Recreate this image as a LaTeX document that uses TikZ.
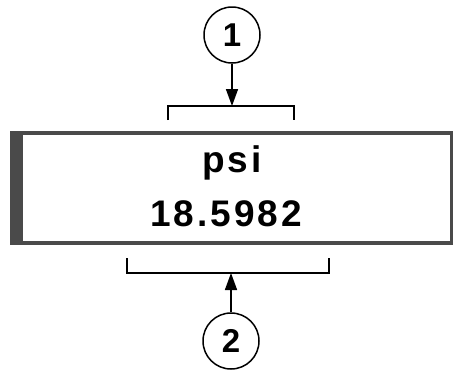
\documentclass[tikz,border=0pt]{standalone}
\usepackage{fontspec}
\setmainfont{Liberation Sans}
\newfontfamily\dispfont[LetterSpace=8]{Liberation Sans}
\usetikzlibrary{arrows.meta}
\definecolor{framegray}{HTML}{4A4A4A}
\begin{document}
\begin{tikzpicture}[x=1pt,y=-1pt,
  line width=1.6pt,
  callout/.style={draw,circle,minimum size=56pt,inner sep=0pt,line width=1.5pt,font=\fontsize{33}{33}\selectfont\bfseries},
  disp/.style={font=\fontsize{37}{37}\selectfont\bfseries\dispfont,inner sep=0pt},
  pointer/.style={-{Triangle[length=17pt,width=12pt]},line width=1.6pt}]
\useasboundingbox (0,0) rectangle (455,370);
\fill[framegray] (10,131) rectangle (453,245);
\fill[white] (23,135) rectangle (450,241);
\node[disp] (unit) at (232,163) {psi};
\node[disp] (val) at (226,214) {18.5982};
\node[callout] (c1) at (232,35) {1};
\node[callout] (c2) at (231,341) {2};
\coordinate (b1) at (232,106);
\coordinate (b2) at (231,273);
\draw (168,120) -- (168,106) -- (294,106) -- (294,120);
\draw (127,258) -- (127,273) -- (329,273) -- (329,258);
\draw[pointer] (c1) -- (b1);
\draw[pointer] (c2) -- (b2);
\end{tikzpicture}
\end{document}
